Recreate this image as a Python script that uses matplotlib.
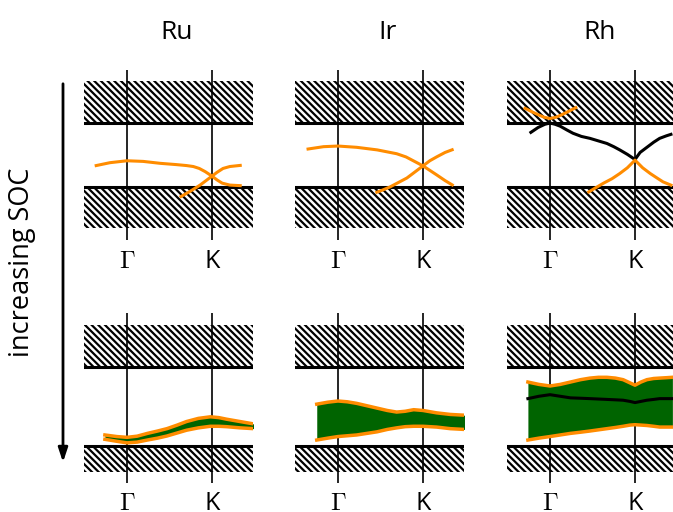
import matplotlib.pyplot as plt
import numpy as np
from matplotlib.patches import FancyArrowPatch

plt.rcParams['mathtext.fontset'] = 'cm'
plt.rcParams['hatch.linewidth'] = 1.6
plt.rcParams['font.family'] = ['Open Sans', 'DejaVu Sans']

ORANGE = '#ff8c00'
GREEN = '#006400'

metals = ['Ru', 'Ir', 'Rh']
kpt_labels = [r'$\Gamma$', 'K']

# k: Gamma = 0, K = 1 ; E: valence edge = 0, conduction edge = 1
# --- weak SOC (top row) ---
ru_a_k = [-0.38, -0.2, 0.0, 0.19, 0.39, 0.58, 0.70, 0.78, 0.85, 0.92, 1.0, 1.06, 1.12, 1.21, 1.35]
ru_a_e = [0.33, 0.38, 0.41, 0.40, 0.37, 0.35, 0.335, 0.32, 0.29, 0.24, 0.17, 0.11, 0.06, 0.03, 0.02]
ru_b_k = [0.62, 0.74, 0.86, 0.94, 1.0, 1.06, 1.13, 1.21, 1.35]
ru_b_e = [-0.16, -0.07, 0.03, 0.11, 0.17, 0.23, 0.29, 0.32, 0.34]

ir_a_k = [-0.37, -0.17, 0.0, 0.22, 0.46, 0.69, 0.80, 0.90, 1.0, 1.08, 1.16, 1.26, 1.36]
ir_a_e = [0.59, 0.63, 0.64, 0.62, 0.58, 0.52, 0.47, 0.40, 0.33, 0.26, 0.19, 0.10, 0.02]
ir_b_k = [0.44, 0.52, 0.61, 0.71, 0.81, 0.90, 1.0, 1.08, 1.16, 1.26, 1.36]
ir_b_e = [-0.09, -0.05, 0.0, 0.07, 0.14, 0.23, 0.33, 0.41, 0.47, 0.54, 0.59]

rh_black_k = [-0.24, -0.14, -0.06, 0.0, 0.06, 0.12, 0.20, 0.27, 0.37, 0.47, 0.57, 0.67, 0.75, 0.82, 0.91, 1.0,
              1.06, 1.14, 1.22, 1.29, 1.37, 1.44]
rh_black_e = [0.84, 0.93, 0.98, 1.0, 0.98, 0.95, 0.89, 0.84, 0.79, 0.76, 0.72, 0.68, 0.63, 0.58, 0.51, 0.43,
              0.54, 0.62, 0.70, 0.76, 0.80, 0.83]
rh_up_k = [-0.31, -0.22, -0.14, -0.07, 0.0, 0.07, 0.14, 0.23, 0.32]
rh_up_e = [1.24, 1.18, 1.13, 1.09, 1.07, 1.09, 1.13, 1.19, 1.25]
rh_lo_k = [0.44, 0.54, 0.63, 0.73, 0.82, 0.91, 1.0, 1.09, 1.18, 1.26, 1.33, 1.44]
rh_lo_e = [-0.09, -0.01, 0.06, 0.13, 0.21, 0.30, 0.42, 0.30, 0.21, 0.14, 0.08, 0.02]

# --- strong SOC (bottom row): band between lower and upper edge ---
ru_k = [-0.26, -0.12, 0.0, 0.12, 0.24, 0.36, 0.47, 0.59, 0.70, 0.84, 0.98, 1.08, 1.17, 1.33, 1.49]
ru_hi = [0.14, 0.12, 0.11, 0.125, 0.16, 0.19, 0.22, 0.265, 0.31, 0.35, 0.37, 0.36, 0.34, 0.31, 0.28]
ru_lo = [0.085, 0.06, 0.04, 0.05, 0.076, 0.10, 0.127, 0.165, 0.20, 0.23, 0.25, 0.25, 0.245, 0.23, 0.22]

ir_k = [-0.25, -0.12, 0.0, 0.11, 0.22, 0.34, 0.46, 0.58, 0.69, 0.79, 0.89, 1.0, 1.08, 1.16, 1.32, 1.49]
ir_hi = [0.53, 0.555, 0.57, 0.56, 0.54, 0.51, 0.48, 0.45, 0.43, 0.44, 0.46, 0.45, 0.435, 0.42, 0.40, 0.39]
ir_lo = [0.076, 0.10, 0.12, 0.13, 0.14, 0.16, 0.18, 0.21, 0.23, 0.245, 0.25, 0.25, 0.245, 0.24, 0.22, 0.21]

rh_k = [-0.26, -0.13, 0.0, 0.12, 0.24, 0.36, 0.47, 0.57, 0.67, 0.77, 0.86, 0.94, 1.0, 1.07, 1.14, 1.22, 1.29,
        1.37, 1.44]
rh_hi = [0.81, 0.78, 0.76, 0.78, 0.81, 0.84, 0.86, 0.87, 0.87, 0.86, 0.84, 0.80, 0.77, 0.81, 0.84, 0.855, 0.86,
         0.865, 0.87]
rh_lo = [0.076, 0.10, 0.12, 0.14, 0.16, 0.175, 0.19, 0.205, 0.22, 0.235, 0.25, 0.265, 0.27, 0.265, 0.26, 0.25,
         0.24, 0.24, 0.24]
rh_mid = [0.60, 0.63, 0.65, 0.63, 0.61, 0.605, 0.60, 0.595, 0.59, 0.585, 0.58, 0.565, 0.55, 0.565, 0.58, 0.59,
          0.60, 0.60, 0.60]

top_curves = [
    [(ru_a_k, ru_a_e, ORANGE), (ru_b_k, ru_b_e, ORANGE)],
    [(ir_a_k, ir_a_e, ORANGE), (ir_b_k, ir_b_e, ORANGE)],
    [(rh_black_k, rh_black_e, 'black'), (rh_up_k, rh_up_e, ORANGE), (rh_lo_k, rh_lo_e, ORANGE)],
]
bottom_bands = [(ru_k, ru_lo, ru_hi, None), (ir_k, ir_lo, ir_hi, None), (rh_k, rh_lo, rh_hi, rh_mid)]

W, H = 673, 512
fig = plt.figure(figsize=(W / 100, H / 100), dpi=100)

gamma_px = [127, 338, 550]
px_per_k = 85.0
HATCH = '\\' * 5


def add_ax(gpx, top_px):
    return fig.add_axes([(gpx - 43) / W, 1 - (top_px + 170) / H, 169 / W, 170 / H])


def base_panel(ax, ylim, hatch_top, hatch_bot, label_y):
    ax.set_xlim(-43 / px_per_k, 126 / px_per_k)
    ax.set_ylim(*ylim)
    ax.axis('off')
    ax.axhspan(1, hatch_top, facecolor='white', edgecolor='black', hatch=HATCH, lw=0, zorder=1)
    ax.axhspan(hatch_bot, 0, facecolor='white', edgecolor='black', hatch=HATCH, lw=0, zorder=1)
    ax.axhline(0, color='black', lw=2.2, zorder=3)
    ax.axhline(1, color='black', lw=2.2, zorder=3)
    for xk, lab in zip([0, 1], kpt_labels):
        ax.axvline(xk, color='black', lw=1.2, zorder=2)
        ax.text(xk, label_y, lab, ha='center', va='center', fontsize=18, clip_on=False)


for i in range(3):
    ax = add_ax(gamma_px[i], 70)
    base_panel(ax, (-0.828, 1.828), 1.656, -0.64, -1.17)
    for k, e, c in top_curves[i]:
        ax.plot(k, e, color=c, lw=2.2, zorder=4, solid_capstyle='butt')
    ax.text(0.58, 2.42, metals[i], ha='center', va='center', fontsize=19, clip_on=False)

    ax2 = add_ax(gamma_px[i], 313)
    base_panel(ax2, (-0.468, 1.684), 1.53, -0.33, -0.73)
    k, lo, hi, mid = bottom_bands[i]
    ax2.fill_between(k, lo, hi, color=GREEN, lw=0, zorder=4)
    ax2.plot(k, lo, color=ORANGE, lw=2.5, zorder=5)
    ax2.plot(k, hi, color=ORANGE, lw=2.5, zorder=5)
    if mid is not None:
        ax2.plot(k, mid, color='black', lw=2.2, zorder=6)

arrow = FancyArrowPatch((0.63, (H - 81) / 100), (0.63, (H - 465) / 100),
                        transform=fig.dpi_scale_trans, arrowstyle='-|>,head_length=0.6,head_width=0.2',
                        mutation_scale=14, lw=2, color='black')
fig.add_artist(arrow)
fig.text(22 / W, 1 - 262 / H, 'increasing SOC', rotation=90, ha='center', va='center', fontsize=19.5)

fig.savefig('out.png', dpi=100)
